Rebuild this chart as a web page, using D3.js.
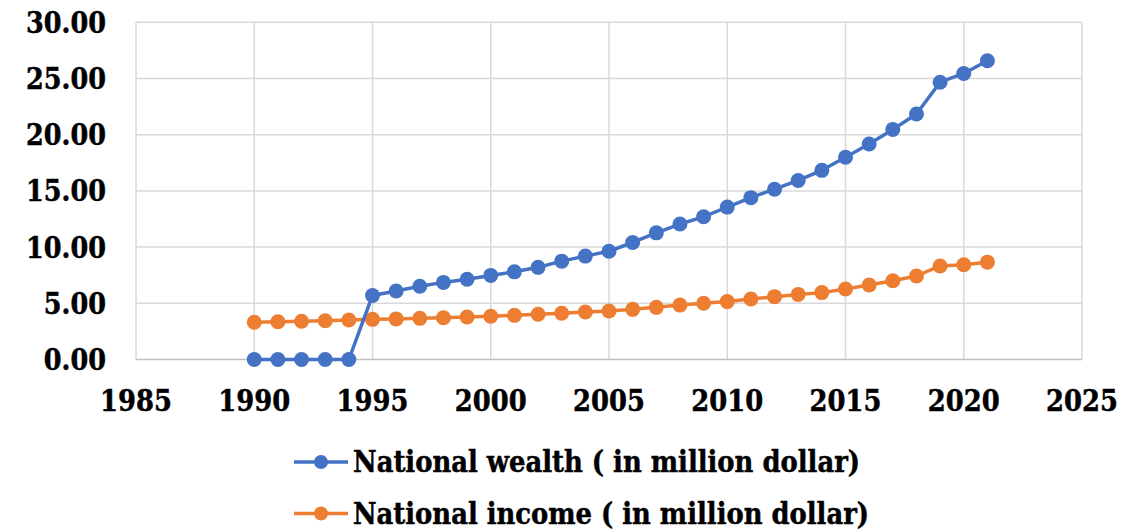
<!DOCTYPE html>
<html>
<head>
<meta charset="utf-8">
<script src="https://cdn.jsdelivr.net/npm/d3@7"></script>
<style>
  html, body { margin: 0; padding: 0; background: #ffffff; }
  svg { display: block; }
  .lbl { font-family: "DejaVu Serif", serif; font-weight: bold; fill: #000; stroke: #000; stroke-width: 0.5px; }
</style>
</head>
<body>
<svg id="chart" width="1145" height="529"></svg>
<script>
// Years on the horizontal axis
const years = [1990, 1991, 1992, 1993, 1994, 1995, 1996, 1997, 1998, 1999,
               2000, 2001, 2002, 2003, 2004, 2005, 2006, 2007, 2008, 2009,
               2010, 2011, 2012, 2013, 2014, 2015, 2016, 2017, 2018, 2019,
               2020, 2021];

// National wealth (in million dollar)
const wealth = [0, 0, 0, 0, 0, 5.70, 6.10, 6.52, 6.86, 7.14,
                7.48, 7.80, 8.20, 8.75, 9.20, 9.63, 10.41, 11.27, 12.05, 12.70,
                13.56, 14.40, 15.15, 15.93, 16.83, 18.00, 19.17, 20.47, 21.84, 24.67,
                25.45, 26.58];

// National income (in million dollar)
const income = [3.32, 3.36, 3.40, 3.45, 3.51, 3.57, 3.61, 3.66, 3.72, 3.78,
                3.85, 3.93, 4.02, 4.11, 4.22, 4.32, 4.46, 4.64, 4.84, 5.00,
                5.15, 5.38, 5.59, 5.79, 5.95, 6.27, 6.63, 7.01, 7.43, 8.32,
                8.43, 8.66];

const xTicks = [1985, 1990, 1995, 2000, 2005, 2010, 2015, 2020, 2025];
const yTicks = [0, 5, 10, 15, 20, 25, 30];

const seriesNames = ["National wealth ( in million dollar)", "National income ( in million dollar)"];
const seriesColors = ["#4472C4", "#ED7D31"];

const svg = d3.select("#chart");

const plot = { left: 136, right: 1082, top: 22.3, bottom: 359.5 };

const x = d3.scaleLinear().domain([1985, 2025]).range([plot.left, plot.right]);
const y = d3.scaleLinear().domain([0, 30]).range([plot.bottom, plot.top]);

// squeeze DejaVu glyphs horizontally to approximate a narrower serif face
function condense(sel, factor) {
  sel.each(function () {
    const w = this.getComputedTextLength();
    d3.select(this).attr("textLength", w * factor).attr("lengthAdjust", "spacingAndGlyphs");
  });
}

// gridlines
svg.append("g")
  .selectAll("line.h")
  .data(yTicks.filter(d => d !== 0))
  .join("line")
  .attr("x1", plot.left).attr("x2", plot.right)
  .attr("y1", d => y(d)).attr("y2", d => y(d))
  .attr("stroke", "#d9d9d9").attr("stroke-width", 1.5);

svg.append("g")
  .selectAll("line.v")
  .data(xTicks)
  .join("line")
  .attr("x1", d => x(d)).attr("x2", d => x(d))
  .attr("y1", plot.top).attr("y2", plot.bottom)
  .attr("stroke", "#d9d9d9").attr("stroke-width", 1.5);

// horizontal axis line at zero
svg.append("line")
  .attr("x1", plot.left).attr("x2", plot.right)
  .attr("y1", y(0)).attr("y2", y(0))
  .attr("stroke", "#bfbfbf").attr("stroke-width", 1.5);

// y tick labels
const yl = svg.append("g")
  .selectAll("text")
  .data(yTicks)
  .join("text")
  .attr("class", "lbl")
  .attr("x", 106)
  .attr("y", d => y(d))
  .attr("dy", "0.36em")
  .attr("text-anchor", "end")
  .style("font-size", "29px")
  .text(d => d3.format(".2f")(d));
condense(yl, 0.88);

// x tick labels
const xl = svg.append("g")
  .selectAll("text")
  .data(xTicks)
  .join("text")
  .attr("class", "lbl")
  .attr("x", d => x(d))
  .attr("y", 410.5)
  .attr("text-anchor", "middle")
  .style("font-size", "29px")
  .text(d => d);
condense(xl, 0.89);

// series lines and markers
const seriesData = [wealth, income];
const line = d3.line().x((d, i) => x(years[i])).y(d => y(d));

// income drawn first so wealth sits on top where they cross
[1, 0].forEach(k => {
  const vals = seriesData[k];
  const g = svg.append("g");
  g.append("path")
    .datum(vals)
    .attr("d", line)
    .attr("fill", "none")
    .attr("stroke", seriesColors[k])
    .attr("stroke-width", 3.5)
    .attr("stroke-linejoin", "round");
  g.selectAll("circle")
    .data(vals)
    .join("circle")
    .attr("cx", (d, i) => x(years[i]))
    .attr("cy", d => y(d))
    .attr("r", 7.5)
    .attr("fill", seriesColors[k]);
});

// legend
const legendRows = [462, 513.5];
const legendWidths = [507, 516];
seriesNames.forEach((name, k) => {
  const g = svg.append("g").attr("transform", `translate(0,${legendRows[k]})`);
  g.append("line")
    .attr("x1", 294).attr("x2", 348)
    .attr("y1", 0).attr("y2", 0)
    .attr("stroke", seriesColors[k]).attr("stroke-width", 3.5);
  g.append("circle")
    .attr("cx", 321).attr("cy", 0).attr("r", 7)
    .attr("fill", seriesColors[k]);
  g.append("text")
    .attr("class", "lbl")
    .attr("x", 353)
    .attr("y", 10)
    .style("font-size", "29px")
    .attr("textLength", legendWidths[k])
    .attr("lengthAdjust", "spacingAndGlyphs")
    .text(name);
});
</script>
</body>
</html>
